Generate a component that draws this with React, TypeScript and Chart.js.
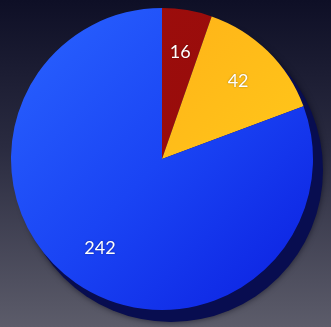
import React, { useEffect, useRef } from "react";
import { Chart, registerables } from "chart.js";

Chart.register(...registerables);

const categories = ["Red", "Orange", "Blue"];
const values = [16, 42, 242];
const sliceColors = ["#9c0d0c", "#ffb514", "#1a46f2"];

const labelPlugin = {
  id: "sliceLabels",
  beforeDatasetsDraw(chart: any) {
    const meta = chart.getDatasetMeta(0);
    const arc = meta.data[0];
    if (!arc) return;
    const { x, y, outerRadius } = arc.getProps(["x", "y", "outerRadius"], true);
    const ctx = chart.ctx;
    ctx.save();
    ctx.beginPath();
    ctx.arc(x + 9, y + 11, outerRadius + 1, 0, Math.PI * 2);
    ctx.fillStyle = "#080d50";
    ctx.shadowColor = "rgba(0,0,20,0.6)";
    ctx.shadowBlur = 6;
    ctx.fill();
    ctx.restore();
  },
  afterDatasetsDraw(chart: any) {
    const meta = chart.getDatasetMeta(0);
    const ctx = chart.ctx;
    ctx.save();
    ctx.font = "18px Lato, 'Open Sans', sans-serif";
    ctx.fillStyle = "#ffffff";
    ctx.textAlign = "center";
    ctx.textBaseline = "middle";
    ctx.shadowColor = "rgba(0,0,0,0.4)";
    ctx.shadowBlur = 2;
    meta.data.forEach((el: any, i: number) => {
      const p = el.getProps(["x", "y", "startAngle", "endAngle", "outerRadius"], true);
      const mid = (p.startAngle + p.endAngle) / 2;
      const r = p.outerRadius * 0.72;
      ctx.fillText(String(values[i]), p.x + Math.cos(mid) * r, p.y + Math.sin(mid) * r);
    });
    ctx.restore();
  },
};

export default function App() {
  const ref = useRef<HTMLCanvasElement | null>(null);
  useEffect(() => {
    if (!ref.current) return;
    const chart = new Chart(ref.current, {
      type: "pie",
      data: {
        labels: categories,
        datasets: [
          {
            data: values,
            backgroundColor: (c: any) => {
              const i = c.dataIndex;
              const area = c.chart.chartArea;
              if (!area) return sliceColors[i];
              const g = c.chart.ctx.createLinearGradient(area.left, area.top, area.right, area.bottom);
              if (i === 2) {
                g.addColorStop(0, "#2a64ff");
                g.addColorStop(0.5, "#1a44f4");
                g.addColorStop(1, "#0b1fe0");
              } else if (i === 1) {
                g.addColorStop(0, "#ffa818");
                g.addColorStop(1, "#ffd21a");
              } else {
                g.addColorStop(0, "#9e0e0c");
                g.addColorStop(1, "#940a0a");
              }
              return g;
            },
            borderWidth: 0,
          },
        ],
      },
      options: {
        animation: false,
        responsive: true,
        maintainAspectRatio: false,
        layout: { padding: { left: 11, top: 8, right: 18, bottom: 17 } },
        plugins: { legend: { display: false }, tooltip: { enabled: false } },
      },
      plugins: [labelPlugin],
    });
    return () => chart.destroy();
  }, []);
  return (
    <div
      style={{
        position: "fixed",
        left: 0,
        top: 0,
        width: 331,
        height: 327,
        overflow: "hidden",
        background: "linear-gradient(180deg, #0e0f26 0%, #2a2b40 45%, #5c5c6a 100%)",
      }}
    >
      <div style={{ position: "absolute", left: 0, top: 0, width: 331, height: 327 }}>
        <canvas ref={ref} />
      </div>
    </div>
  );
}
